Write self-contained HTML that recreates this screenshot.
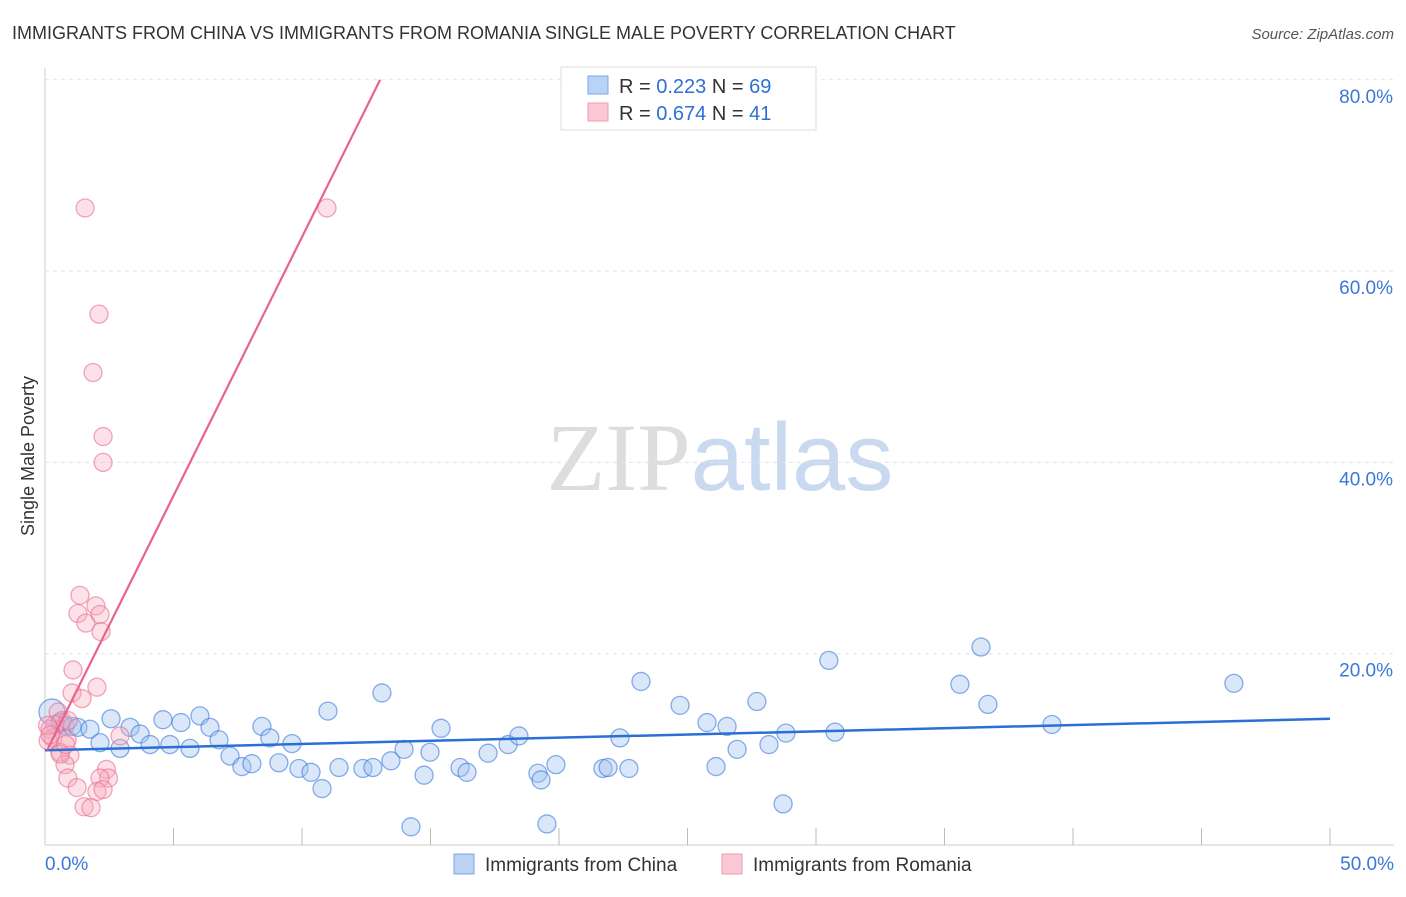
<!DOCTYPE html>
<html><head><meta charset="utf-8"><style>
body{margin:0;background:#fff;font-family:"Liberation Sans",sans-serif}
</style></head><body>
<svg id="chart" width="1406" height="892" xmlns="http://www.w3.org/2000/svg" font-family="Liberation Sans, sans-serif">
<text x="12" y="39" font-size="18" fill="#333">IMMIGRANTS FROM CHINA VS IMMIGRANTS FROM ROMANIA SINGLE MALE POVERTY CORRELATION CHART</text>
<text x="1394" y="39" font-size="15" fill="#555" text-anchor="end" font-style="italic">Source: ZipAtlas.com</text>
<text x="720" y="490" font-size="96" text-anchor="middle"><tspan fill="#ddd" font-family="Liberation Serif, serif">ZIP</tspan><tspan fill="#c9d9f0">atlas</tspan></text>
<text transform="translate(34,456) rotate(-90)" font-size="18" fill="#333" text-anchor="middle">Single Male Poverty</text>
<g id="grid"></g><g id="pts"></g><g id="lines"></g>
<g>
<rect x="561" y="67" width="255" height="63" fill="#fff" stroke="#ddd"/>
<rect x="588" y="76" width="20" height="18" fill="#b9d3f5" stroke="#7aa7e6"/>
<text x="619" y="93" font-size="20" fill="#333">R = <tspan fill="#2f6fd6">0.223</tspan>   N = <tspan fill="#2f6fd6">69</tspan></text>
<rect x="588" y="103" width="20" height="18" fill="#f9c9d6" stroke="#ee9ab2"/>
<text x="619" y="120" font-size="20" fill="#333">R = <tspan fill="#2f6fd6">0.674</tspan>   N =  <tspan fill="#2f6fd6">41</tspan></text>
</g>
<g>
<rect x="454" y="854" width="20" height="20" fill="#b9d3f5" stroke="#7aa7e6"/>
<text x="485" y="871" font-size="19" fill="#333">Immigrants from China</text>
<rect x="722" y="854" width="20" height="20" fill="#f9c9d6" stroke="#ee9ab2"/>
<text x="753" y="871" font-size="19" fill="#333">Immigrants from Romania</text>
</g>
</svg>
<script>
const NS="http://www.w3.org/2000/svg";
const yTicks=[20,40,60,80];
const yTickLabels=["20.0%","40.0%","60.0%","80.0%"];
const xTickLabels=["0.0%","50.0%"];
const chinaX=[0.27,0.58,0.78,1.05,1.28,1.75,2.14,2.57,2.92,3.31,3.7,4.09,4.59,4.86,5.29,5.64,6.03,6.42,6.77,7.2,7.66,8.05,8.44,8.75,9.1,9.61,9.88,10.35,10.78,11.01,11.44,12.37,12.76,13.11,13.46,13.97,14.24,14.75,14.98,15.41,16.15,16.42,17.24,18.02,18.44,19.18,19.3,19.53,19.88,21.71,21.91,22.37,22.72,23.19,24.71,25.76,26.11,26.54,26.93,27.7,28.17,28.72,28.83,30.5,30.74,35.6,36.42,36.69,39.18,46.26];
const chinaY=[13.9,12.8,12.5,12.4,12.3,12.1,10.7,13.2,10.1,12.3,11.6,10.5,13.1,10.5,12.8,10.1,13.5,12.3,11.0,9.3,8.2,8.5,12.4,11.2,8.6,10.6,8.0,7.6,5.9,14.0,8.1,8.0,8.1,15.9,8.8,10.0,1.9,7.3,9.7,12.2,8.1,7.6,9.6,10.5,11.4,7.5,6.8,2.2,8.4,8.0,8.1,11.2,8.0,17.1,14.6,12.8,8.2,12.4,10.0,15.0,10.5,4.3,11.7,19.3,11.8,16.8,20.7,14.7,12.6,16.9];
const romX=[1.56,10.97,2.1,1.87,2.26,2.26,1.36,1.98,1.28,2.14,1.59,2.18,1.09,2.02,1.05,1.44,0.51,0.66,0.39,0.19,0.31,0.86,0.12,0.58,0.97,0.78,0.89,2.92,2.39,2.47,2.14,2.02,2.26,1.25,1.52,1.79,0.1,0.2,0.6,0.8,0.9];
const romY=[66.6,66.6,55.5,49.4,42.7,40.0,26.1,25.0,24.2,24.1,23.2,22.3,18.3,16.5,15.9,15.3,13.9,13.0,12.6,12.1,11.2,11.0,10.9,9.7,9.4,8.4,7.0,11.4,7.9,7.0,7.0,5.6,5.8,6.0,4.0,3.9,12.5,11.5,9.5,10.5,13.0];
const chinaLine=[9.9,13.2];
const romLine=[[0.08,9.9],[13.04,80]];
const X=v=>45+v/50*1285, Y=v=>845-v/20*191.3;
function el(t,a,p){const e=document.createElementNS(NS,t);for(const k in a)e.setAttribute(k,a[k]);p.appendChild(e);return e;}
const grid=document.getElementById('grid'),svg=document.getElementById('chart');
el('line',{x1:45,y1:68,x2:45,y2:845,stroke:'#ccc'},grid);
el('line',{x1:45,y1:845,x2:1394,y2:845,stroke:'#ccc'},grid);
yTicks.forEach((t,i)=>{
 const g=el('line',{x1:45,y1:Y(t),x2:1394,y2:Y(t),stroke:'#e2e2e2','stroke-dasharray':'4,4'},grid);
 
 
 const tx=el('text',{x:1393,y:Y(t)+23,'font-size':19,fill:'#3a78d8','text-anchor':'end'},grid);
 tx.textContent=yTickLabels[i];
 
 
});
for(let i=1;i<=10;i++){const xx=45+i*128.5;el('line',{x1:xx,y1:828,x2:xx,y2:845,stroke:'#bbb'},grid);}
[[0,'start',45],[1,'end',1394]].forEach(([i,a,x])=>{const t=el('text',{x:x,y:870,'font-size':19,fill:'#3a78d8','text-anchor':a},grid);
 t.textContent=xTickLabels[i];
 
 });
const pts=document.getElementById('pts');
chinaX.forEach((x,i)=>{const c=el('circle',{cx:X(x),cy:Y(chinaY[i]),r:i==0?13:9,fill:'rgba(160,195,240,0.4)',stroke:'rgba(60,120,220,0.6)','stroke-width':1.3},pts);
 
 });
romX.forEach((x,i)=>{const c=el('circle',{cx:X(x),cy:Y(romY[i]),r:9,fill:'rgba(245,170,190,0.35)',stroke:'rgba(230,110,145,0.6)','stroke-width':1.3},pts);
 
 });
const lines=document.getElementById('lines');
const bl=el('line',{x1:X(0),y1:Y(chinaLine[0]),x2:X(50),y2:Y(chinaLine[1]),stroke:'#2b6fd4','stroke-width':2.5},lines);


const pl=el('line',{x1:X(romLine[0][0]),y1:Y(romLine[0][1]),x2:X(romLine[1][0]),y2:Y(romLine[1][1]),stroke:'#e8638e','stroke-width':2.2},lines);


</script>
</body></html>
